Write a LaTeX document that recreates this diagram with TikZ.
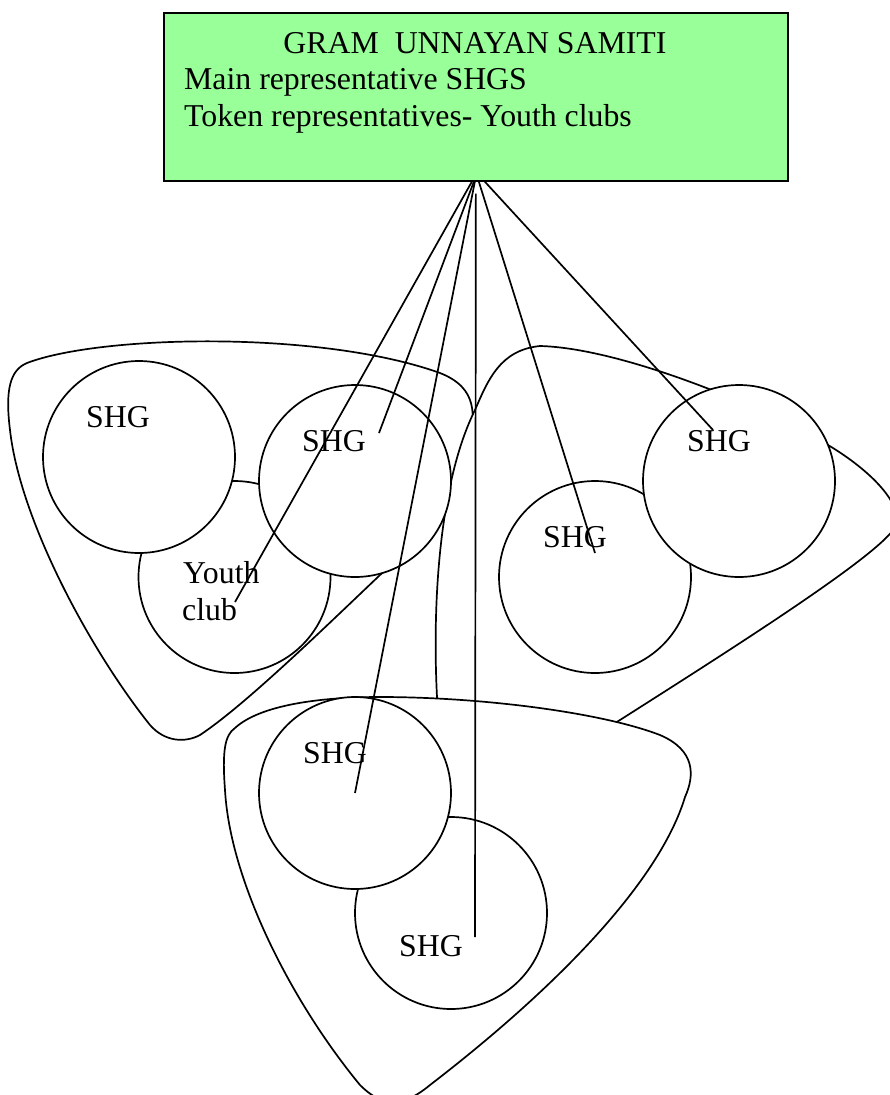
\documentclass[tikz,border=0pt]{standalone}
\usepackage{fontspec}
\setmainfont{Liberation Serif}
\definecolor{gusgreen}{RGB}{153,255,153}
\begin{document}
\begin{tikzpicture}[x=1pt,y=-1pt,
  every node/.style={font=\fontsize{31.8}{38}\selectfont, inner sep=0pt},
  blob/.style={draw, fill=white, line width=1.7pt, line join=round},
  grp/.style={circle, draw, fill=white, line width=1.7pt, minimum size=192pt, inner sep=0pt},
  link/.style={line width=1.7pt},
  lbl/.style={anchor=base west}]
\useasboundingbox (0,0) rectangle (890,1095);
\fill[white] (0,0) rectangle (890,1095);

% header box
\node[draw, fill=gusgreen, line width=1.7pt, minimum width=624pt, minimum height=168pt, anchor=north west] (gus) at (163,12) {};
\node[anchor=base] (title) at (475,53) {GRAM\ \ UNNAYAN SAMITI};
\node[lbl] (main) at (184,89) {Main representative SHGS};
\node[lbl] (token) at (184,126) {Token representatives- Youth clubs};

% group outlines
\draw[blob] (27,363) .. controls (100,335) and (320,330) .. (440,373)
  .. controls (478,388) and (476,415) .. (468,450)
  .. controls (455,500) and (420,540) .. (380,575)
  .. controls (320,632) and (245,705) .. (200,735)
  .. controls (185,743) and (165,742) .. (150,725)
  .. controls (90,650) and (20,520) .. (10,430)
  .. controls (5,390) and (10,370) .. (27,363) -- cycle;
\draw[blob] (475,410) .. controls (488,380) and (500,350) .. (540,346)
  .. controls (620,348) and (760,405) .. (828,445)
  .. controls (870,470) and (905,505) .. (895,527)
  .. controls (880,555) and (730,650) .. (620,720)
  .. controls (580,745) and (500,750) .. (450,735)
  .. controls (437,725) and (436,710) .. (437,697)
  .. controls (432,600) and (440,480) .. (475,410) -- cycle;
\draw[blob] (235,728) .. controls (260,705) and (320,697) .. (380,697)
  .. controls (480,697) and (600,712) .. (660,735)
  .. controls (695,750) and (695,775) .. (685,797)
  .. controls (660,880) and (560,985) .. (430,1085)
  .. controls (400,1110) and (380,1105) .. (360,1085)
  .. controls (290,1000) and (230,880) .. (225,790)
  .. controls (222,750) and (225,735) .. (235,728) -- cycle;

% member circles
\node[grp] (youth) at (234.5,577) {};
\node[grp] (shgA) at (139,457) {};
\node[grp] (shgB) at (355,481) {};
\node[grp] (shgC) at (595,577) {};
\node[grp] (shgD) at (739,481) {};
\node[grp] (shgE) at (451,913) {};
\node[grp] (shgF) at (355,793) {};

% labels
\node[lbl] (lA) at (86,427) {SHG};
\node[lbl] (lB) at (302,451) {SHG};
\node[lbl] (lY1) at (183,583) {Youth};
\node[lbl] (lY2) at (182,620) {club};
\node[lbl] (lC) at (543,547) {SHG};
\node[lbl] (lD) at (687,451) {SHG};
\node[lbl] (lF) at (303,763) {SHG};
\node[lbl] (lE) at (399,956) {SHG};

% connectors
\coordinate (eYouth) at (235,602);
\coordinate (eB) at (379,433);
\coordinate (eF) at (355,793);
\coordinate (eE) at (475,937);
\coordinate (eC) at (595,553);
\coordinate (eD) at (713,430);
\draw[link] ([xshift=-4pt]gus.south) -- (eYouth);
\draw[link] ([xshift=-2pt]gus.south) -- (eB);
\draw[link] ([xshift=-1pt]gus.south) -- (eF);
\draw[link] ([yshift=-12pt]gus.south) -- (eE);
\draw[link] ([xshift=3pt]gus.south) -- (eC);
\draw[link] ([xshift=9pt]gus.south) -- (eD);
\end{tikzpicture}
\end{document}
